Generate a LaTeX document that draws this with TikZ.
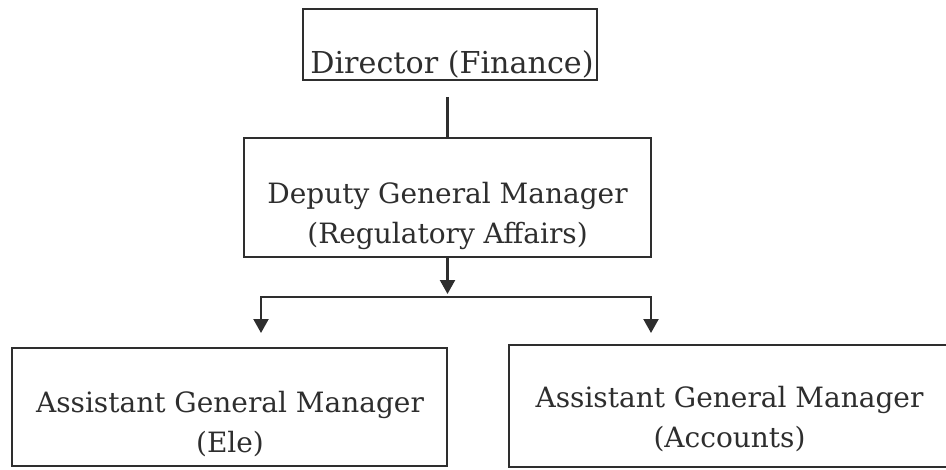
\documentclass[tikz,border=0pt]{standalone}
\usepackage{fontspec}
\setmainfont{DejaVu Serif}
\usetikzlibrary{arrows.meta}
\definecolor{ink}{HTML}{2E2E2E}
\tikzset{
  orgbox/.style={draw=ink, line width=0.9pt, inner sep=0pt, rectangle},
  orgtext/.style={text=ink, align=center, inner sep=0pt, font=\fontsize{14}{20}\selectfont},
  conn/.style={draw=ink, line width=1.1pt, line join=miter},
  tipped/.style={conn, -{Triangle[width=7.5pt,length=7pt]}},
  bothtipped/.style={conn, {Triangle[width=7.5pt,length=7pt]}-{Triangle[width=7.5pt,length=7pt]}}
}
\begin{document}
\begin{tikzpicture}[x=0.5pt,y=-0.5pt]
\useasboundingbox (0,0) rectangle (946,470);
% boxes
\node[orgbox, minimum width=147pt, minimum height=35.5pt] (dir) at (450,44.5) {};
\node[orgbox, minimum width=203.5pt, minimum height=59.5pt] (dgm) at (447.5,197.5) {};
\node[orgbox, minimum width=217.5pt, minimum height=59pt] (agme) at (229.5,407) {};
\node[orgbox, minimum width=220.5pt, minimum height=61pt] (agma) at (729.5,406) {};
% texts
\node[orgtext, anchor=base, font=\fontsize{15.1}{20}\selectfont] (dirt) at (452,74) {Director (Finance)};
\node[orgtext] (dgmt) at (447.5,216) {Deputy General Manager\\(Regulatory Affairs)};
\node[orgtext] (agmet) at (230,424) {Assistant General Manager\\(Ele)};
\node[orgtext] (agmat) at (729.5,419) {Assistant General Manager\\(Accounts)};
% connectors
\coordinate (c0) at ([yshift=-8pt]dir.south);
\draw[conn] (c0 -| dgm.north) -- (dgm.north);
\coordinate (split) at (447.5,294);
\draw[tipped] (dgm.south) -- (split);
\coordinate (bl) at (261,297);
\coordinate (br) at (651,297);
\coordinate (tl) at (261,333);
\coordinate (tr) at (651,333);
\draw[bothtipped] (tl) -- (bl) -- (br) -- (tr);
\end{tikzpicture}
\end{document}
